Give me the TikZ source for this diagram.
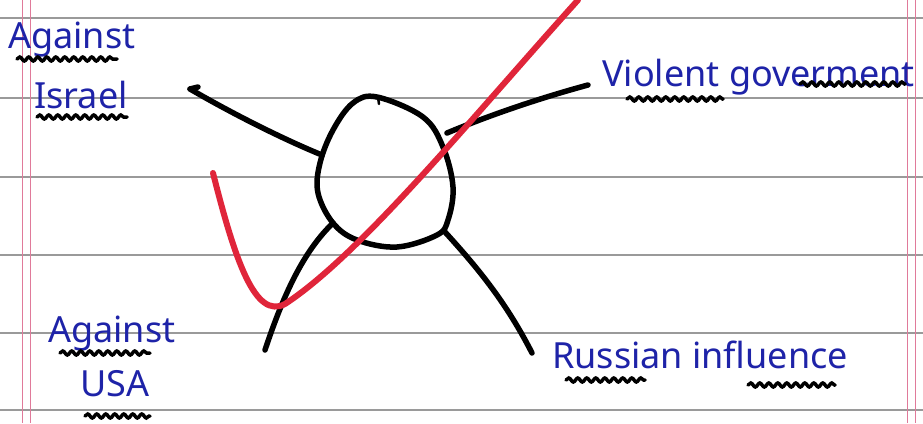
\documentclass[tikz,border=0pt]{standalone}
\usepackage{fontspec}
\setmainfont{Noto Sans}
\usetikzlibrary{decorations.pathmorphing}
\definecolor{ink}{HTML}{1E23A8}
\definecolor{redpen}{HTML}{E0253A}
\definecolor{rule}{HTML}{9A9A9A}
\definecolor{margin}{HTML}{E07A9A}
\tikzset{
  ruleline/.style={rule, line width=1.1pt},
  marginline/.style={margin, line width=1pt},
  stroke/.style={black, line width=5.5pt, line cap=round, line join=round},
  label/.style={ink, font=\fontsize{36}{38}\selectfont, inner sep=0pt, anchor=base west},
  squiggle/.style={black, line width=3.5pt, line cap=round, decorate,
     decoration={snake, segment length=9pt, amplitude=2pt}},
  tickmark/.style={redpen, line width=6pt, line cap=round, line join=round}
}
\begin{document}
\begin{tikzpicture}[x=1pt, y=-1pt]
\useasboundingbox (0,0) rectangle (923,423);
\fill[white] (0,0) rectangle (923,423);
% ruled lines
\foreach \yy in {18,98,177,255,333,410}
  \draw[ruleline] (0,\yy) -- (923,\yy);
% margins
\draw[marginline] (22,0) -- (22,423);
\draw[marginline] (30,0) -- (30,423);
\draw[marginline] (907,0) -- (907,423);
\draw[marginline] (915,0) -- (915,423);

% centre blob
\draw[stroke] plot[smooth cycle, tension=0.6] coordinates {
 (377,97) (423,117) (443,147) (453,187) (448,220) (437,235) (397,247)
 (357,240) (333,223) (318,193) (320,163) (333,130) (353,103)};
\draw[stroke, line width=2.5pt] (378,97) -- (379,104);
\coordinate (ul) at (322,155);
\coordinate (ur) at (447,133);
\coordinate (ll) at (333,223);
\coordinate (lr) at (445,232);
\coordinate (ulend) at (190,89);
\coordinate (urend) at (588,85);
\coordinate (llend) at (265,350);
\coordinate (lrend) at (532,353);
\draw[stroke] (ul) .. controls (290,142) and (240,118) .. (ulend);
\draw[stroke] (ulend) -- ++(8,-2);
\draw[stroke] (ur) .. controls (490,115) and (540,98) .. (urend);
\draw[stroke] (ll) .. controls (305,250) and (285,290) .. (llend);
\draw[stroke] (lr) .. controls (475,265) and (505,300) .. (lrend);

% labels
\node[label] (israel1) at (8,48) {Against};
\node[label] (israel2) at (34,108) {Israel};
\draw[squiggle] (17,59) -- (117,59);
\draw[squiggle] (37,117) -- (127,117);

\node[label] (violent) at (602,86) {Violent goverment};
\draw[squiggle] (627,99) -- (723,99);
\draw[squiggle] (800,84) -- (905,84);

\node[label] (usa1) at (48,342) {Against};
\draw[squiggle] (60,353) -- (150,353);
\node[label] (usa2) at (80,396) {USA};
\draw[squiggle] (85,416) -- (150,416);

\node[label] (russia) at (552,368) {Russian influence};
\draw[squiggle] (566,380) -- (645,380);
\draw[squiggle] (748,385) -- (835,385);

% red check mark
\draw[tickmark] (213,173) .. controls (235,260) and (255,320) .. (285,304)
  .. controls (360,255) and (470,120) .. (578,0);
\end{tikzpicture}
\end{document}
